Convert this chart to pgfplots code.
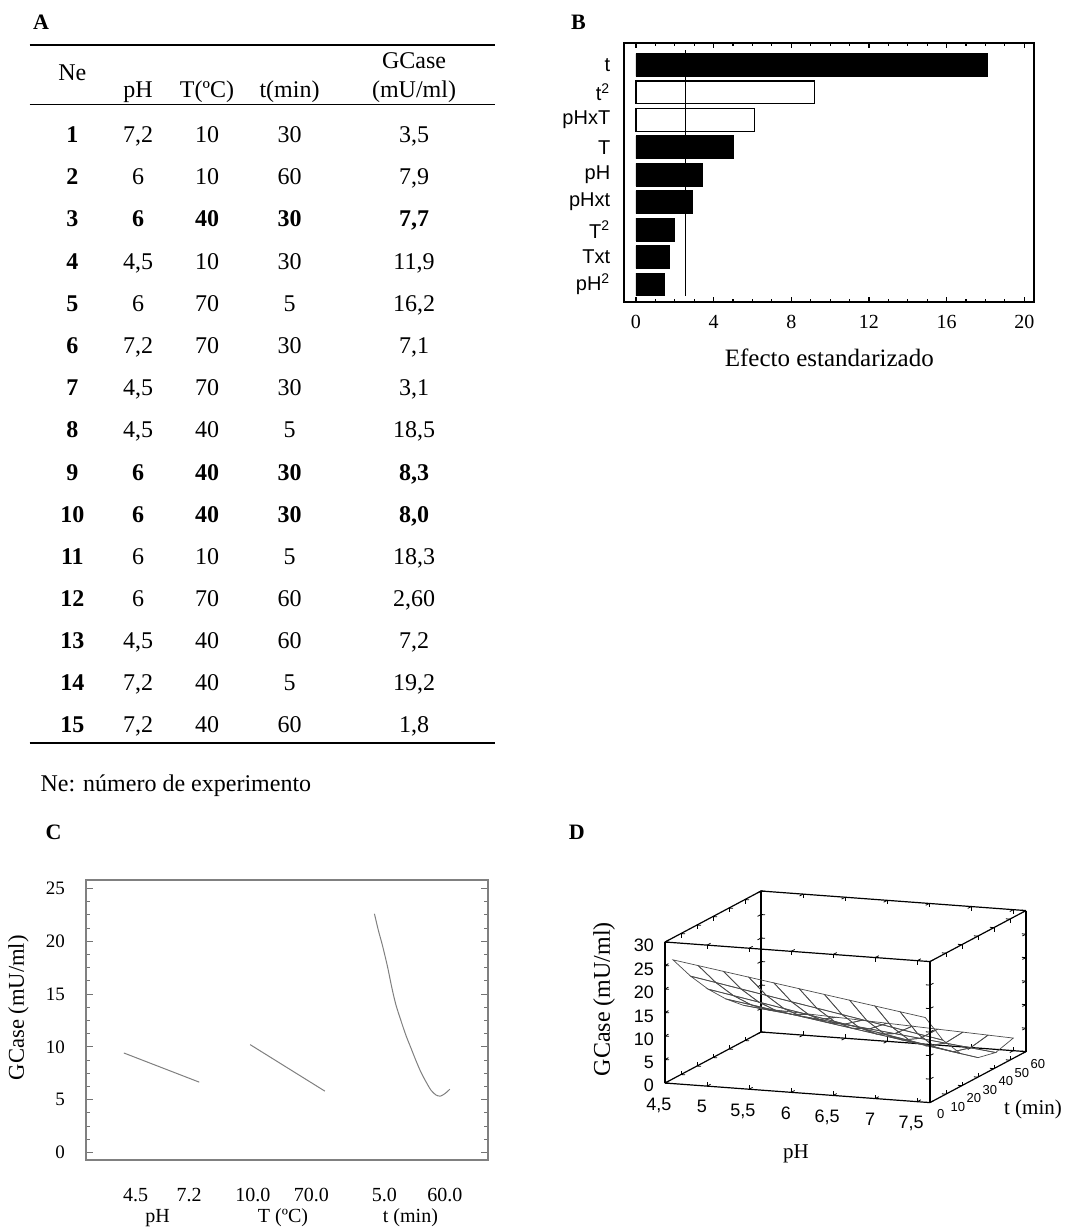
\documentclass[border=0pt]{standalone}
\usepackage{fontspec}
\setmainfont{Liberation Serif}
\setsansfont{Liberation Sans}
\usepackage{pgfplots}
\pgfplotsset{compat=1.18}
\newcommand\fs[1]{\fontsize{#1}{#1}\selectfont}
\tikzset{cell/.style={anchor=base, inner sep=0pt, font=\fs{12}}}
\newcommand\trow[6]{%
  \node[cell] at (72.4,#1) {\bfseries #2};
  \node[cell] at (138,#1) {#3};
  \node[cell] at (207,#1) {#4};
  \node[cell] at (289.5,#1) {#5};
  \node[cell] at (414,#1) {#6};
}
\begin{document}
\begin{tikzpicture}
\fill[white] (0,0) rectangle (545pt,-614.5pt);
\path[use as bounding box] (0,0) rectangle (545pt,-614.5pt);
\begin{scope}[x=0.5pt,y=-0.5pt]
% panel letters
\node[font=\bfseries\fs{11}] at (41,22) {A};
\node[font=\bfseries\fs{11}] at (578.5,22) {B};
\node[font=\bfseries\fs{11}] at (53.6,832) {C};
\node[font=\bfseries\fs{11}] at (576.8,832) {D};
% table A
\draw[line width=0.8pt] (29.6,44.8) -- (494.9,44.8);
\draw[line width=0.8pt] (29.6,104.4) -- (494.9,104.4);
\draw[line width=0.8pt] (29.6,742.7) -- (494.9,742.7);
\node[cell] at (72.4,80.8) {Ne};
\node[cell] at (138,97.6) {pH};
\node[cell] at (207,97.6) {T(ºC)};
\node[cell] at (289.5,97.6) {t(min)};
\node[cell] at (414,69) {GCase};
\node[cell] at (414,97.6) {(mU/ml)};
\trow{142.7}{1}{7,2}{10}{30}{3,5}
\trow{184.9}{2}{6}{10}{60}{7,9}
\trow{227.0}{3}{\bfseries 6}{\bfseries 40}{\bfseries 30}{\bfseries 7,7}
\trow{269.2}{4}{4,5}{10}{30}{11,9}
\trow{311.3}{5}{6}{70}{5}{16,2}
\trow{353.5}{6}{7,2}{70}{30}{7,1}
\trow{395.7}{7}{4,5}{70}{30}{3,1}
\trow{437.8}{8}{4,5}{40}{5}{18,5}
\trow{480.0}{9}{\bfseries 6}{\bfseries 40}{\bfseries 30}{\bfseries 8,3}
\trow{522.1}{10}{\bfseries 6}{\bfseries 40}{\bfseries 30}{\bfseries 8,0}
\trow{564.3}{11}{6}{10}{5}{18,3}
\trow{606.5}{12}{6}{70}{60}{2,60}
\trow{648.6}{13}{4,5}{40}{60}{7,2}
\trow{690.8}{14}{7,2}{40}{5}{19,2}
\trow{732.9}{15}{7,2}{40}{60}{1,8}
\node[anchor=base west, inner sep=0pt, font=\fs{12}] at (40.2,791) {Ne: número de experimento};
% B label
\node[anchor=base, inner sep=0pt, font=\fs{12.5}] at (829.3,367) {Efecto estandarizado};
% C labels
\node[rotate=90, inner sep=0pt, font=\fs{11.3}] at (18.4,1007.7) {GCase (mU/ml)};
\node[anchor=base, inner sep=0pt, font=\fs{10}] at (157.5,1222.8) {pH};
\node[anchor=base, inner sep=0pt, font=\fs{10}] at (283,1222.8) {T (ºC)};
\node[anchor=base, inner sep=0pt, font=\fs{10}] at (410.4,1222.8) {t (min)};
% D labels
\node[rotate=90, inner sep=0pt, font=\fs{12}] at (604,999.3) {GCase (mU/ml)};
\node[anchor=base, inner sep=0pt, font=\fs{10.5}] at (796,1158.6) {pH};
\node[anchor=base, inner sep=0pt, font=\fs{10.5}] at (1033,1114.8) {t (min)};
\end{scope}

% ---------------- B ----------------
\begin{axis}[at={(312.15pt,-151pt)}, anchor=south west, scale only axis,
  width=204.85pt, height=129.35pt,
  xmin=-0.6, xmax=20.5, ymin=-0.64, ymax=8.79,
  axis line style={line width=1pt},
  bar width=0.83,
  xtick={0,4,...,20}, minor x tick num=3,
  major tick length=2.5pt, minor tick length=1.5pt,
  tick style={black, line width=0.6pt},
  ytick={0,...,8},
  yticklabels={pH\textsuperscript{2},Txt,T\textsuperscript{2},pHxt,pH,T,pHxT,t\textsuperscript{2},t},
  ytick style={draw=none},
  yticklabel style={font=\sffamily\fs{10}, xshift=-3.5pt},
  xticklabel style={font=\fs{10}, yshift=-3pt},
  /pgf/number format/assume math mode=true,
]
\addplot[xbar, bar shift=0pt, fill=black, draw=black] coordinates {(1.45,0) (1.7,1) (2.0,2) (2.9,3) (3.4,4) (5.0,5) (18.1,8)};
\addplot[xbar, bar shift=0pt, fill=white, draw=black, line width=0.6pt] coordinates {(6.1,6) (9.2,7)};
\addplot[black, line width=0.6pt] coordinates {(2.55,-0.42) (2.55,8.55)};
\end{axis}

% ---------------- C ----------------
\begin{axis}[at={(43pt,-580pt)}, anchor=south west, scale only axis,
  width=201pt, height=140pt, xmin=0, xmax=1200, ymin=-0.7, ymax=25.8,
  axis line style={color=black!50, line width=0.8pt},
  ytick={0,5,...,25}, minor y tick num=3,
  major tick length=3.3pt, minor tick length=2pt,
  tick style={black!55, line width=0.5pt},
  xtick={148,308,498,673,891,1071},
  xticklabels={4.5,7.2,10.0,70.0,5.0,60.0},
  xtick style={draw=none},
  yticklabel style={font=\fs{9.5}, xshift=-7pt},
  xticklabel style={font=\fs{10}, yshift=-10.5pt},
  /pgf/number format/assume math mode=true,
]
\addplot[black!50, line width=0.5pt] coordinates {(113,9.43) (338,6.67)};
\addplot[black!50, line width=0.5pt] coordinates {(490,10.22) (713,5.82)};
\addplot[black!50, line width=0.5pt, smooth] coordinates {
(861,22.6) (873,21.0) (885,19.6) (900,17.6) (913,15.6) (925,14.0) (940,12.5) (955,11.1) (970,9.9) (985,8.7) (1000,7.6) (1015,6.7) (1030,5.9) (1045,5.45) (1058,5.35) (1072,5.6) (1086,6.0)};
\end{axis}

% ---------------- D ----------------
\begin{axis}[at={(332.5pt,-541.5pt)}, anchor=origin, disabledatascaling,
  x={(42.05pt,-3.11pt)}, y={(0.8pt,0.425pt)}, z={(0pt,2.35pt)},
  xmin=0, xmax=3.15, ymin=0, ymax=60, zmin=0, zmax=30,
  3d box=complete,
  axis line style={line width=0.6pt},
  colormap={gr}{color=(black!70) color=(black!70)},
  xtick={0,0.5,...,3}, xticklabels={{4,5},5,{5,5},6,{6,5},7,{7,5}},
  ytick={0,10,...,60}, ztick={0,5,...,30},
  tick style={black, line width=0.4pt}, major tick length=2pt,
  xticklabel style={font=\sffamily\fs{9}, yshift=-3.5pt, xshift=1.5pt},
  yticklabel style={font=\sffamily\fs{6.5}},
  zticklabel style={font=\sffamily\fs{9}, xshift=-2pt},
  /pgf/number format/assume math mode=true,
]
\addplot3[mesh, draw=black!70, line width=0.35pt, mesh/rows=6, mesh/cols=11] table[row sep=\\] {
x y z\\
0 5 25.30\\ 0.3 5 24.47\\ 0.6 5 23.64\\ 0.9 5 22.81\\ 1.2 5 21.98\\ 1.5 5 21.15\\ 1.8 5 20.32\\ 2.1 5 19.49\\ 2.4 5 18.66\\ 2.7 5 17.83\\ 3.0 5 17.00\\
0 16 19.84\\ 0.3 16 18.88\\ 0.6 16 17.91\\ 0.9 16 16.95\\ 1.2 16 15.98\\ 1.5 16 15.02\\ 1.8 16 14.06\\ 2.1 16 13.09\\ 2.4 16 12.13\\ 2.7 16 11.16\\ 3.0 16 10.20\\
0 27 15.08\\ 0.3 27 14.11\\ 0.6 27 13.14\\ 0.9 27 12.16\\ 1.2 27 11.19\\ 1.5 27 10.22\\ 1.8 27 9.25\\ 2.1 27 8.28\\ 2.4 27 7.30\\ 2.7 27 6.33\\ 3.0 27 5.36\\
0 38 11.02\\ 0.3 38 10.17\\ 0.6 38 9.32\\ 0.9 38 8.46\\ 1.2 38 7.61\\ 1.5 38 6.76\\ 1.8 38 5.91\\ 2.1 38 5.06\\ 2.4 38 4.20\\ 2.7 38 3.35\\ 3.0 38 2.50\\
0 49 7.67\\ 0.3 49 7.06\\ 0.6 49 6.46\\ 0.9 49 5.85\\ 1.2 49 5.24\\ 1.5 49 4.64\\ 1.8 49 4.03\\ 2.1 49 3.42\\ 2.4 49 2.81\\ 2.7 49 2.21\\ 3.0 49 1.60\\
0 60 5.02\\ 0.3 60 4.79\\ 0.6 60 4.55\\ 0.9 60 4.32\\ 1.2 60 4.08\\ 1.5 60 3.85\\ 1.8 60 3.62\\ 2.1 60 3.38\\ 2.4 60 3.15\\ 2.7 60 2.91\\ 3.0 60 2.68\\
};
\end{axis}
\end{tikzpicture}
\end{document}
